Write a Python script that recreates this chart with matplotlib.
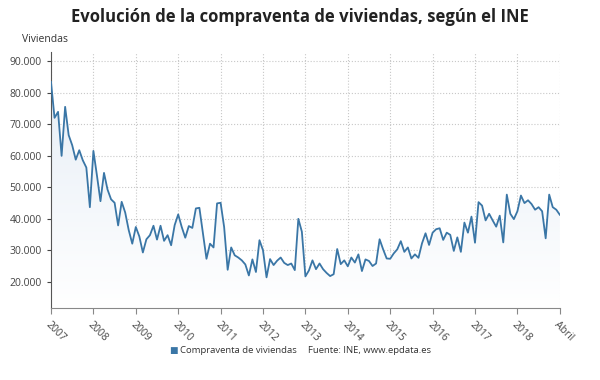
import numpy as np
import matplotlib.pyplot as plt
from matplotlib.ticker import FuncFormatter
from matplotlib.colors import LinearSegmentedColormap

plt.rcParams['font.family'] = ['Open Sans', 'DejaVu Sans']

# compraventa mensual de viviendas, abril 2007 - abril 2019
valores = [83500, 72100, 74000, 60000, 75600, 66600, 63400, 58800, 61800, 58600, 56300, 43700,
           61600, 53800, 45600, 54600, 49300, 46200, 45100, 37900, 45400, 42000, 36400, 32100,
           37400, 34400, 29300, 33500, 34800, 37800, 33400, 37800, 33000, 34800, 31600, 38000,
           41400, 37400, 34000, 37700, 37100, 43300, 43500, 35500, 27300, 32100, 30900, 44900,
           45100, 37400, 23800, 30900, 28400, 27700, 26800, 25500, 22000, 27100, 23100, 33200,
           30000, 21400, 27200, 25300, 26700, 27700, 26000, 25300, 25800, 23700, 40000, 35900,
           21700, 23600, 26800, 24000, 25800, 24000, 22800, 21800, 22400, 30400, 25600, 26800,
           24900, 27700, 26100, 28700, 23400, 27100, 26600, 25000, 25800, 33500, 30300, 27400,
           27300, 29000, 30300, 32900, 29500, 30900, 27400, 28700, 27600, 32200, 35400, 31700,
           35600, 36700, 37000, 33300, 35600, 34900, 29800, 34100, 29500, 38800, 35600, 40700,
           32400, 45300, 44200, 39500, 41600, 39500, 37500, 41000, 32500, 47700, 41600, 39900,
           42400, 47400, 45000, 45900, 44700, 42900, 43700, 42400, 33800, 47700, 43700, 42900,
           41300]
etiquetas = ['2007', '2008', '2009', '2010', '2011', '2012', '2013', '2014',
             '2015', '2016', '2017', '2018', 'Abril']
yticks = [20000, 30000, 40000, 50000, 60000, 70000, 80000, 90000]

azul = '#3a76a6'
x = np.arange(len(valores))
ymin, ymax = 11600, 93000

fig = plt.figure(figsize=(6, 3.8), dpi=100)
ax = fig.add_axes([0.085, 0.189, 0.848, 0.674])

# relleno con degradado bajo la linea
fill = ax.fill_between(x, valores, ymin, color='none')
grad = np.linspace(1, 0, 256).reshape(-1, 1)
img = ax.imshow(grad, extent=[0, len(valores) - 1, ymin, ymax], aspect='auto',
                cmap=LinearSegmentedColormap.from_list('g', ['#ffffff', '#e4ecf5']),
                zorder=1)
img.set_clip_path(fill.get_paths()[0], transform=ax.transData)

ax.plot(x, valores, color=azul, lw=1.3, zorder=3)

ax.set_xlim(0, len(valores) - 1)
ax.set_ylim(ymin, ymax)
ax.set_xticks(np.arange(0, len(valores), 12))
ax.set_xticklabels(etiquetas, rotation=-45, ha='left', rotation_mode='anchor',
                   fontsize=7.5, color='#444444')
ax.set_yticks(yticks)
ax.yaxis.set_major_formatter(FuncFormatter(lambda v, p: f'{int(v):,}'.replace(',', '.')))
ax.tick_params(axis='y', labelsize=7.5, colors='#444444', length=3)
ax.tick_params(axis='x', length=4, color='#888888', pad=4)
ax.grid(True, color='#c8c8c8', ls=':', lw=0.8)
ax.set_axisbelow(True)
for s in ['top', 'right']:
    ax.spines[s].set_visible(False)
ax.spines['left'].set_color('#555555')
ax.spines['bottom'].set_color('#888888')

fig.text(0.5, 0.955, 'Evolución de la compraventa de viviendas, según el INE',
         ha='center', va='center', fontsize=12, fontweight='bold', color='#222222')
fig.text(0.037, 0.895, 'Viviendas', ha='left', va='center', fontsize=7.5, color='#333333')

fig.text(0.282, 0.078, '■', ha='left', va='center', fontsize=6.5, color=azul)
fig.text(0.300, 0.078, 'Compraventa de viviendas', ha='left', va='center', fontsize=6.8, color='#333333')
fig.text(0.513, 0.078, 'Fuente: INE, www.epdata.es', ha='left', va='center', fontsize=6.8, color='#333333')

fig.savefig('out.png', dpi=100)
